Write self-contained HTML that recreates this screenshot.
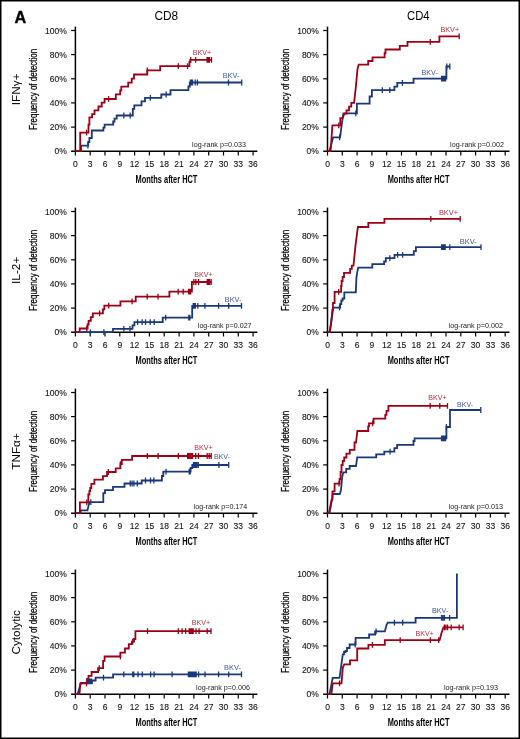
<!DOCTYPE html>
<html><head><meta charset="utf-8"><title>Figure</title>
<style>
html,body{margin:0;padding:0;background:#fff;}
svg{display:block;will-change:transform;}
text{font-family:"Liberation Sans", sans-serif;}
.yt{font-size:11.8px;fill:#000;stroke:#000;stroke-width:0.25px;}
.ax{stroke:#000;stroke-width:1.5;fill:none;}
.tk{stroke:#000;stroke-width:1.2;fill:none;}
.tl{font-size:8.5px;fill:#111;stroke:#111;stroke-width:0.1px;}
.at{font-size:10.9px;fill:#000;font-weight:bold;}
.cv{fill:none;stroke-width:1.8;stroke-linejoin:miter;stroke-linecap:butt;}
.ct{fill:none;stroke-width:1.3;}
.bk{font-size:8px;opacity:0.85;}
.lr{font-size:7.9px;fill:#1a1a1a;}
.rl{font-size:11.8px;fill:#000;}
.ch{font-size:12.2px;fill:#000;}
.pa{font-size:15.5px;font-weight:bold;fill:#000;stroke:#000;stroke-width:0.35px;}
</style></head>
<body>
<svg width="520" height="739" viewBox="0 0 520 739">
<rect x="0" y="0" width="520" height="739" fill="#fff"/>
<line x1="75.4" y1="26.6" x2="75.4" y2="151.9" class="ax"/>
<line x1="71.1" y1="151.2" x2="257.4" y2="151.2" class="ax"/>
<text x="66.8" y="154.2" class="tl" text-anchor="end">0%</text>
<line x1="71.1" y1="127.1" x2="75.4" y2="127.1" class="tk"/>
<text x="66.8" y="130.1" class="tl" text-anchor="end">20%</text>
<line x1="71.1" y1="102.9" x2="75.4" y2="102.9" class="tk"/>
<text x="66.8" y="105.9" class="tl" text-anchor="end">40%</text>
<line x1="71.1" y1="78.8" x2="75.4" y2="78.8" class="tk"/>
<text x="66.8" y="81.8" class="tl" text-anchor="end">60%</text>
<line x1="71.1" y1="54.6" x2="75.4" y2="54.6" class="tk"/>
<text x="66.8" y="57.6" class="tl" text-anchor="end">80%</text>
<line x1="71.1" y1="30.5" x2="75.4" y2="30.5" class="tk"/>
<text x="66.8" y="33.5" class="tl" text-anchor="end">100%</text>
<line x1="75.4" y1="151.2" x2="75.4" y2="155.5" class="tk"/>
<text x="75.4" y="167.0" class="tl" text-anchor="middle">0</text>
<line x1="90.2" y1="151.2" x2="90.2" y2="155.5" class="tk"/>
<text x="90.2" y="167.0" class="tl" text-anchor="middle">3</text>
<line x1="105.0" y1="151.2" x2="105.0" y2="155.5" class="tk"/>
<text x="105.0" y="167.0" class="tl" text-anchor="middle">6</text>
<line x1="119.8" y1="151.2" x2="119.8" y2="155.5" class="tk"/>
<text x="119.8" y="167.0" class="tl" text-anchor="middle">9</text>
<line x1="134.6" y1="151.2" x2="134.6" y2="155.5" class="tk"/>
<text x="134.6" y="167.0" class="tl" text-anchor="middle">12</text>
<line x1="149.4" y1="151.2" x2="149.4" y2="155.5" class="tk"/>
<text x="149.4" y="167.0" class="tl" text-anchor="middle">15</text>
<line x1="164.2" y1="151.2" x2="164.2" y2="155.5" class="tk"/>
<text x="164.2" y="167.0" class="tl" text-anchor="middle">18</text>
<line x1="179.1" y1="151.2" x2="179.1" y2="155.5" class="tk"/>
<text x="179.1" y="167.0" class="tl" text-anchor="middle">21</text>
<line x1="193.9" y1="151.2" x2="193.9" y2="155.5" class="tk"/>
<text x="193.9" y="167.0" class="tl" text-anchor="middle">24</text>
<line x1="208.7" y1="151.2" x2="208.7" y2="155.5" class="tk"/>
<text x="208.7" y="167.0" class="tl" text-anchor="middle">27</text>
<line x1="223.5" y1="151.2" x2="223.5" y2="155.5" class="tk"/>
<text x="223.5" y="167.0" class="tl" text-anchor="middle">30</text>
<line x1="238.3" y1="151.2" x2="238.3" y2="155.5" class="tk"/>
<text x="238.3" y="167.0" class="tl" text-anchor="middle">33</text>
<line x1="253.1" y1="151.2" x2="253.1" y2="155.5" class="tk"/>
<text x="253.1" y="167.0" class="tl" text-anchor="middle">36</text>
<text x="135.6" y="183.0" class="at" textLength="61.8" lengthAdjust="spacingAndGlyphs">Months after HCT</text>
<text transform="translate(37.0,89.4) rotate(-90)" x="0" y="0" class="yt" text-anchor="middle" textLength="81.2" lengthAdjust="spacingAndGlyphs">Frequency of detection</text>
<line x1="327.5" y1="26.6" x2="327.5" y2="151.9" class="ax"/>
<line x1="323.2" y1="151.2" x2="509.5" y2="151.2" class="ax"/>
<text x="318.9" y="154.2" class="tl" text-anchor="end">0%</text>
<line x1="323.2" y1="127.1" x2="327.5" y2="127.1" class="tk"/>
<text x="318.9" y="130.1" class="tl" text-anchor="end">20%</text>
<line x1="323.2" y1="102.9" x2="327.5" y2="102.9" class="tk"/>
<text x="318.9" y="105.9" class="tl" text-anchor="end">40%</text>
<line x1="323.2" y1="78.8" x2="327.5" y2="78.8" class="tk"/>
<text x="318.9" y="81.8" class="tl" text-anchor="end">60%</text>
<line x1="323.2" y1="54.6" x2="327.5" y2="54.6" class="tk"/>
<text x="318.9" y="57.6" class="tl" text-anchor="end">80%</text>
<line x1="323.2" y1="30.5" x2="327.5" y2="30.5" class="tk"/>
<text x="318.9" y="33.5" class="tl" text-anchor="end">100%</text>
<line x1="327.5" y1="151.2" x2="327.5" y2="155.5" class="tk"/>
<text x="327.5" y="167.0" class="tl" text-anchor="middle">0</text>
<line x1="342.3" y1="151.2" x2="342.3" y2="155.5" class="tk"/>
<text x="342.3" y="167.0" class="tl" text-anchor="middle">3</text>
<line x1="357.1" y1="151.2" x2="357.1" y2="155.5" class="tk"/>
<text x="357.1" y="167.0" class="tl" text-anchor="middle">6</text>
<line x1="371.9" y1="151.2" x2="371.9" y2="155.5" class="tk"/>
<text x="371.9" y="167.0" class="tl" text-anchor="middle">9</text>
<line x1="386.7" y1="151.2" x2="386.7" y2="155.5" class="tk"/>
<text x="386.7" y="167.0" class="tl" text-anchor="middle">12</text>
<line x1="401.5" y1="151.2" x2="401.5" y2="155.5" class="tk"/>
<text x="401.5" y="167.0" class="tl" text-anchor="middle">15</text>
<line x1="416.3" y1="151.2" x2="416.3" y2="155.5" class="tk"/>
<text x="416.3" y="167.0" class="tl" text-anchor="middle">18</text>
<line x1="431.2" y1="151.2" x2="431.2" y2="155.5" class="tk"/>
<text x="431.2" y="167.0" class="tl" text-anchor="middle">21</text>
<line x1="446.0" y1="151.2" x2="446.0" y2="155.5" class="tk"/>
<text x="446.0" y="167.0" class="tl" text-anchor="middle">24</text>
<line x1="460.8" y1="151.2" x2="460.8" y2="155.5" class="tk"/>
<text x="460.8" y="167.0" class="tl" text-anchor="middle">27</text>
<line x1="475.6" y1="151.2" x2="475.6" y2="155.5" class="tk"/>
<text x="475.6" y="167.0" class="tl" text-anchor="middle">30</text>
<line x1="490.4" y1="151.2" x2="490.4" y2="155.5" class="tk"/>
<text x="490.4" y="167.0" class="tl" text-anchor="middle">33</text>
<line x1="505.2" y1="151.2" x2="505.2" y2="155.5" class="tk"/>
<text x="505.2" y="167.0" class="tl" text-anchor="middle">36</text>
<text x="387.7" y="183.0" class="at" textLength="61.8" lengthAdjust="spacingAndGlyphs">Months after HCT</text>
<text transform="translate(289.1,89.4) rotate(-90)" x="0" y="0" class="yt" text-anchor="middle" textLength="81.2" lengthAdjust="spacingAndGlyphs">Frequency of detection</text>
<line x1="75.4" y1="207.6" x2="75.4" y2="332.9" class="ax"/>
<line x1="71.1" y1="332.2" x2="257.4" y2="332.2" class="ax"/>
<text x="66.8" y="335.2" class="tl" text-anchor="end">0%</text>
<line x1="71.1" y1="308.1" x2="75.4" y2="308.1" class="tk"/>
<text x="66.8" y="311.1" class="tl" text-anchor="end">20%</text>
<line x1="71.1" y1="283.9" x2="75.4" y2="283.9" class="tk"/>
<text x="66.8" y="286.9" class="tl" text-anchor="end">40%</text>
<line x1="71.1" y1="259.8" x2="75.4" y2="259.8" class="tk"/>
<text x="66.8" y="262.8" class="tl" text-anchor="end">60%</text>
<line x1="71.1" y1="235.6" x2="75.4" y2="235.6" class="tk"/>
<text x="66.8" y="238.6" class="tl" text-anchor="end">80%</text>
<line x1="71.1" y1="211.5" x2="75.4" y2="211.5" class="tk"/>
<text x="66.8" y="214.5" class="tl" text-anchor="end">100%</text>
<line x1="75.4" y1="332.2" x2="75.4" y2="336.5" class="tk"/>
<text x="75.4" y="348.0" class="tl" text-anchor="middle">0</text>
<line x1="90.2" y1="332.2" x2="90.2" y2="336.5" class="tk"/>
<text x="90.2" y="348.0" class="tl" text-anchor="middle">3</text>
<line x1="105.0" y1="332.2" x2="105.0" y2="336.5" class="tk"/>
<text x="105.0" y="348.0" class="tl" text-anchor="middle">6</text>
<line x1="119.8" y1="332.2" x2="119.8" y2="336.5" class="tk"/>
<text x="119.8" y="348.0" class="tl" text-anchor="middle">9</text>
<line x1="134.6" y1="332.2" x2="134.6" y2="336.5" class="tk"/>
<text x="134.6" y="348.0" class="tl" text-anchor="middle">12</text>
<line x1="149.4" y1="332.2" x2="149.4" y2="336.5" class="tk"/>
<text x="149.4" y="348.0" class="tl" text-anchor="middle">15</text>
<line x1="164.2" y1="332.2" x2="164.2" y2="336.5" class="tk"/>
<text x="164.2" y="348.0" class="tl" text-anchor="middle">18</text>
<line x1="179.1" y1="332.2" x2="179.1" y2="336.5" class="tk"/>
<text x="179.1" y="348.0" class="tl" text-anchor="middle">21</text>
<line x1="193.9" y1="332.2" x2="193.9" y2="336.5" class="tk"/>
<text x="193.9" y="348.0" class="tl" text-anchor="middle">24</text>
<line x1="208.7" y1="332.2" x2="208.7" y2="336.5" class="tk"/>
<text x="208.7" y="348.0" class="tl" text-anchor="middle">27</text>
<line x1="223.5" y1="332.2" x2="223.5" y2="336.5" class="tk"/>
<text x="223.5" y="348.0" class="tl" text-anchor="middle">30</text>
<line x1="238.3" y1="332.2" x2="238.3" y2="336.5" class="tk"/>
<text x="238.3" y="348.0" class="tl" text-anchor="middle">33</text>
<line x1="253.1" y1="332.2" x2="253.1" y2="336.5" class="tk"/>
<text x="253.1" y="348.0" class="tl" text-anchor="middle">36</text>
<text x="135.6" y="364.0" class="at" textLength="61.8" lengthAdjust="spacingAndGlyphs">Months after HCT</text>
<text transform="translate(37.0,270.4) rotate(-90)" x="0" y="0" class="yt" text-anchor="middle" textLength="81.2" lengthAdjust="spacingAndGlyphs">Frequency of detection</text>
<line x1="327.5" y1="207.6" x2="327.5" y2="332.9" class="ax"/>
<line x1="323.2" y1="332.2" x2="509.5" y2="332.2" class="ax"/>
<text x="318.9" y="335.2" class="tl" text-anchor="end">0%</text>
<line x1="323.2" y1="308.1" x2="327.5" y2="308.1" class="tk"/>
<text x="318.9" y="311.1" class="tl" text-anchor="end">20%</text>
<line x1="323.2" y1="283.9" x2="327.5" y2="283.9" class="tk"/>
<text x="318.9" y="286.9" class="tl" text-anchor="end">40%</text>
<line x1="323.2" y1="259.8" x2="327.5" y2="259.8" class="tk"/>
<text x="318.9" y="262.8" class="tl" text-anchor="end">60%</text>
<line x1="323.2" y1="235.6" x2="327.5" y2="235.6" class="tk"/>
<text x="318.9" y="238.6" class="tl" text-anchor="end">80%</text>
<line x1="323.2" y1="211.5" x2="327.5" y2="211.5" class="tk"/>
<text x="318.9" y="214.5" class="tl" text-anchor="end">100%</text>
<line x1="327.5" y1="332.2" x2="327.5" y2="336.5" class="tk"/>
<text x="327.5" y="348.0" class="tl" text-anchor="middle">0</text>
<line x1="342.3" y1="332.2" x2="342.3" y2="336.5" class="tk"/>
<text x="342.3" y="348.0" class="tl" text-anchor="middle">3</text>
<line x1="357.1" y1="332.2" x2="357.1" y2="336.5" class="tk"/>
<text x="357.1" y="348.0" class="tl" text-anchor="middle">6</text>
<line x1="371.9" y1="332.2" x2="371.9" y2="336.5" class="tk"/>
<text x="371.9" y="348.0" class="tl" text-anchor="middle">9</text>
<line x1="386.7" y1="332.2" x2="386.7" y2="336.5" class="tk"/>
<text x="386.7" y="348.0" class="tl" text-anchor="middle">12</text>
<line x1="401.5" y1="332.2" x2="401.5" y2="336.5" class="tk"/>
<text x="401.5" y="348.0" class="tl" text-anchor="middle">15</text>
<line x1="416.3" y1="332.2" x2="416.3" y2="336.5" class="tk"/>
<text x="416.3" y="348.0" class="tl" text-anchor="middle">18</text>
<line x1="431.2" y1="332.2" x2="431.2" y2="336.5" class="tk"/>
<text x="431.2" y="348.0" class="tl" text-anchor="middle">21</text>
<line x1="446.0" y1="332.2" x2="446.0" y2="336.5" class="tk"/>
<text x="446.0" y="348.0" class="tl" text-anchor="middle">24</text>
<line x1="460.8" y1="332.2" x2="460.8" y2="336.5" class="tk"/>
<text x="460.8" y="348.0" class="tl" text-anchor="middle">27</text>
<line x1="475.6" y1="332.2" x2="475.6" y2="336.5" class="tk"/>
<text x="475.6" y="348.0" class="tl" text-anchor="middle">30</text>
<line x1="490.4" y1="332.2" x2="490.4" y2="336.5" class="tk"/>
<text x="490.4" y="348.0" class="tl" text-anchor="middle">33</text>
<line x1="505.2" y1="332.2" x2="505.2" y2="336.5" class="tk"/>
<text x="505.2" y="348.0" class="tl" text-anchor="middle">36</text>
<text x="387.7" y="364.0" class="at" textLength="61.8" lengthAdjust="spacingAndGlyphs">Months after HCT</text>
<text transform="translate(289.1,270.4) rotate(-90)" x="0" y="0" class="yt" text-anchor="middle" textLength="81.2" lengthAdjust="spacingAndGlyphs">Frequency of detection</text>
<line x1="75.4" y1="388.6" x2="75.4" y2="513.9" class="ax"/>
<line x1="71.1" y1="513.2" x2="257.4" y2="513.2" class="ax"/>
<text x="66.8" y="516.2" class="tl" text-anchor="end">0%</text>
<line x1="71.1" y1="489.1" x2="75.4" y2="489.1" class="tk"/>
<text x="66.8" y="492.1" class="tl" text-anchor="end">20%</text>
<line x1="71.1" y1="464.9" x2="75.4" y2="464.9" class="tk"/>
<text x="66.8" y="467.9" class="tl" text-anchor="end">40%</text>
<line x1="71.1" y1="440.8" x2="75.4" y2="440.8" class="tk"/>
<text x="66.8" y="443.8" class="tl" text-anchor="end">60%</text>
<line x1="71.1" y1="416.6" x2="75.4" y2="416.6" class="tk"/>
<text x="66.8" y="419.6" class="tl" text-anchor="end">80%</text>
<line x1="71.1" y1="392.5" x2="75.4" y2="392.5" class="tk"/>
<text x="66.8" y="395.5" class="tl" text-anchor="end">100%</text>
<line x1="75.4" y1="513.2" x2="75.4" y2="517.5" class="tk"/>
<text x="75.4" y="529.0" class="tl" text-anchor="middle">0</text>
<line x1="90.2" y1="513.2" x2="90.2" y2="517.5" class="tk"/>
<text x="90.2" y="529.0" class="tl" text-anchor="middle">3</text>
<line x1="105.0" y1="513.2" x2="105.0" y2="517.5" class="tk"/>
<text x="105.0" y="529.0" class="tl" text-anchor="middle">6</text>
<line x1="119.8" y1="513.2" x2="119.8" y2="517.5" class="tk"/>
<text x="119.8" y="529.0" class="tl" text-anchor="middle">9</text>
<line x1="134.6" y1="513.2" x2="134.6" y2="517.5" class="tk"/>
<text x="134.6" y="529.0" class="tl" text-anchor="middle">12</text>
<line x1="149.4" y1="513.2" x2="149.4" y2="517.5" class="tk"/>
<text x="149.4" y="529.0" class="tl" text-anchor="middle">15</text>
<line x1="164.2" y1="513.2" x2="164.2" y2="517.5" class="tk"/>
<text x="164.2" y="529.0" class="tl" text-anchor="middle">18</text>
<line x1="179.1" y1="513.2" x2="179.1" y2="517.5" class="tk"/>
<text x="179.1" y="529.0" class="tl" text-anchor="middle">21</text>
<line x1="193.9" y1="513.2" x2="193.9" y2="517.5" class="tk"/>
<text x="193.9" y="529.0" class="tl" text-anchor="middle">24</text>
<line x1="208.7" y1="513.2" x2="208.7" y2="517.5" class="tk"/>
<text x="208.7" y="529.0" class="tl" text-anchor="middle">27</text>
<line x1="223.5" y1="513.2" x2="223.5" y2="517.5" class="tk"/>
<text x="223.5" y="529.0" class="tl" text-anchor="middle">30</text>
<line x1="238.3" y1="513.2" x2="238.3" y2="517.5" class="tk"/>
<text x="238.3" y="529.0" class="tl" text-anchor="middle">33</text>
<line x1="253.1" y1="513.2" x2="253.1" y2="517.5" class="tk"/>
<text x="253.1" y="529.0" class="tl" text-anchor="middle">36</text>
<text x="135.6" y="545.0" class="at" textLength="61.8" lengthAdjust="spacingAndGlyphs">Months after HCT</text>
<text transform="translate(37.0,451.4) rotate(-90)" x="0" y="0" class="yt" text-anchor="middle" textLength="81.2" lengthAdjust="spacingAndGlyphs">Frequency of detection</text>
<line x1="327.5" y1="388.6" x2="327.5" y2="513.9" class="ax"/>
<line x1="323.2" y1="513.2" x2="509.5" y2="513.2" class="ax"/>
<text x="318.9" y="516.2" class="tl" text-anchor="end">0%</text>
<line x1="323.2" y1="489.1" x2="327.5" y2="489.1" class="tk"/>
<text x="318.9" y="492.1" class="tl" text-anchor="end">20%</text>
<line x1="323.2" y1="464.9" x2="327.5" y2="464.9" class="tk"/>
<text x="318.9" y="467.9" class="tl" text-anchor="end">40%</text>
<line x1="323.2" y1="440.8" x2="327.5" y2="440.8" class="tk"/>
<text x="318.9" y="443.8" class="tl" text-anchor="end">60%</text>
<line x1="323.2" y1="416.6" x2="327.5" y2="416.6" class="tk"/>
<text x="318.9" y="419.6" class="tl" text-anchor="end">80%</text>
<line x1="323.2" y1="392.5" x2="327.5" y2="392.5" class="tk"/>
<text x="318.9" y="395.5" class="tl" text-anchor="end">100%</text>
<line x1="327.5" y1="513.2" x2="327.5" y2="517.5" class="tk"/>
<text x="327.5" y="529.0" class="tl" text-anchor="middle">0</text>
<line x1="342.3" y1="513.2" x2="342.3" y2="517.5" class="tk"/>
<text x="342.3" y="529.0" class="tl" text-anchor="middle">3</text>
<line x1="357.1" y1="513.2" x2="357.1" y2="517.5" class="tk"/>
<text x="357.1" y="529.0" class="tl" text-anchor="middle">6</text>
<line x1="371.9" y1="513.2" x2="371.9" y2="517.5" class="tk"/>
<text x="371.9" y="529.0" class="tl" text-anchor="middle">9</text>
<line x1="386.7" y1="513.2" x2="386.7" y2="517.5" class="tk"/>
<text x="386.7" y="529.0" class="tl" text-anchor="middle">12</text>
<line x1="401.5" y1="513.2" x2="401.5" y2="517.5" class="tk"/>
<text x="401.5" y="529.0" class="tl" text-anchor="middle">15</text>
<line x1="416.3" y1="513.2" x2="416.3" y2="517.5" class="tk"/>
<text x="416.3" y="529.0" class="tl" text-anchor="middle">18</text>
<line x1="431.2" y1="513.2" x2="431.2" y2="517.5" class="tk"/>
<text x="431.2" y="529.0" class="tl" text-anchor="middle">21</text>
<line x1="446.0" y1="513.2" x2="446.0" y2="517.5" class="tk"/>
<text x="446.0" y="529.0" class="tl" text-anchor="middle">24</text>
<line x1="460.8" y1="513.2" x2="460.8" y2="517.5" class="tk"/>
<text x="460.8" y="529.0" class="tl" text-anchor="middle">27</text>
<line x1="475.6" y1="513.2" x2="475.6" y2="517.5" class="tk"/>
<text x="475.6" y="529.0" class="tl" text-anchor="middle">30</text>
<line x1="490.4" y1="513.2" x2="490.4" y2="517.5" class="tk"/>
<text x="490.4" y="529.0" class="tl" text-anchor="middle">33</text>
<line x1="505.2" y1="513.2" x2="505.2" y2="517.5" class="tk"/>
<text x="505.2" y="529.0" class="tl" text-anchor="middle">36</text>
<text x="387.7" y="545.0" class="at" textLength="61.8" lengthAdjust="spacingAndGlyphs">Months after HCT</text>
<text transform="translate(289.1,451.4) rotate(-90)" x="0" y="0" class="yt" text-anchor="middle" textLength="81.2" lengthAdjust="spacingAndGlyphs">Frequency of detection</text>
<line x1="75.4" y1="569.6" x2="75.4" y2="694.9" class="ax"/>
<line x1="71.1" y1="694.2" x2="257.4" y2="694.2" class="ax"/>
<text x="66.8" y="697.2" class="tl" text-anchor="end">0%</text>
<line x1="71.1" y1="670.1" x2="75.4" y2="670.1" class="tk"/>
<text x="66.8" y="673.1" class="tl" text-anchor="end">20%</text>
<line x1="71.1" y1="645.9" x2="75.4" y2="645.9" class="tk"/>
<text x="66.8" y="648.9" class="tl" text-anchor="end">40%</text>
<line x1="71.1" y1="621.8" x2="75.4" y2="621.8" class="tk"/>
<text x="66.8" y="624.8" class="tl" text-anchor="end">60%</text>
<line x1="71.1" y1="597.6" x2="75.4" y2="597.6" class="tk"/>
<text x="66.8" y="600.6" class="tl" text-anchor="end">80%</text>
<line x1="71.1" y1="573.5" x2="75.4" y2="573.5" class="tk"/>
<text x="66.8" y="576.5" class="tl" text-anchor="end">100%</text>
<line x1="75.4" y1="694.2" x2="75.4" y2="698.5" class="tk"/>
<text x="75.4" y="710.0" class="tl" text-anchor="middle">0</text>
<line x1="90.2" y1="694.2" x2="90.2" y2="698.5" class="tk"/>
<text x="90.2" y="710.0" class="tl" text-anchor="middle">3</text>
<line x1="105.0" y1="694.2" x2="105.0" y2="698.5" class="tk"/>
<text x="105.0" y="710.0" class="tl" text-anchor="middle">6</text>
<line x1="119.8" y1="694.2" x2="119.8" y2="698.5" class="tk"/>
<text x="119.8" y="710.0" class="tl" text-anchor="middle">9</text>
<line x1="134.6" y1="694.2" x2="134.6" y2="698.5" class="tk"/>
<text x="134.6" y="710.0" class="tl" text-anchor="middle">12</text>
<line x1="149.4" y1="694.2" x2="149.4" y2="698.5" class="tk"/>
<text x="149.4" y="710.0" class="tl" text-anchor="middle">15</text>
<line x1="164.2" y1="694.2" x2="164.2" y2="698.5" class="tk"/>
<text x="164.2" y="710.0" class="tl" text-anchor="middle">18</text>
<line x1="179.1" y1="694.2" x2="179.1" y2="698.5" class="tk"/>
<text x="179.1" y="710.0" class="tl" text-anchor="middle">21</text>
<line x1="193.9" y1="694.2" x2="193.9" y2="698.5" class="tk"/>
<text x="193.9" y="710.0" class="tl" text-anchor="middle">24</text>
<line x1="208.7" y1="694.2" x2="208.7" y2="698.5" class="tk"/>
<text x="208.7" y="710.0" class="tl" text-anchor="middle">27</text>
<line x1="223.5" y1="694.2" x2="223.5" y2="698.5" class="tk"/>
<text x="223.5" y="710.0" class="tl" text-anchor="middle">30</text>
<line x1="238.3" y1="694.2" x2="238.3" y2="698.5" class="tk"/>
<text x="238.3" y="710.0" class="tl" text-anchor="middle">33</text>
<line x1="253.1" y1="694.2" x2="253.1" y2="698.5" class="tk"/>
<text x="253.1" y="710.0" class="tl" text-anchor="middle">36</text>
<text x="135.6" y="726.0" class="at" textLength="61.8" lengthAdjust="spacingAndGlyphs">Months after HCT</text>
<text transform="translate(37.0,632.4) rotate(-90)" x="0" y="0" class="yt" text-anchor="middle" textLength="81.2" lengthAdjust="spacingAndGlyphs">Frequency of detection</text>
<line x1="327.5" y1="569.6" x2="327.5" y2="694.9" class="ax"/>
<line x1="323.2" y1="694.2" x2="509.5" y2="694.2" class="ax"/>
<text x="318.9" y="697.2" class="tl" text-anchor="end">0%</text>
<line x1="323.2" y1="670.1" x2="327.5" y2="670.1" class="tk"/>
<text x="318.9" y="673.1" class="tl" text-anchor="end">20%</text>
<line x1="323.2" y1="645.9" x2="327.5" y2="645.9" class="tk"/>
<text x="318.9" y="648.9" class="tl" text-anchor="end">40%</text>
<line x1="323.2" y1="621.8" x2="327.5" y2="621.8" class="tk"/>
<text x="318.9" y="624.8" class="tl" text-anchor="end">60%</text>
<line x1="323.2" y1="597.6" x2="327.5" y2="597.6" class="tk"/>
<text x="318.9" y="600.6" class="tl" text-anchor="end">80%</text>
<line x1="323.2" y1="573.5" x2="327.5" y2="573.5" class="tk"/>
<text x="318.9" y="576.5" class="tl" text-anchor="end">100%</text>
<line x1="327.5" y1="694.2" x2="327.5" y2="698.5" class="tk"/>
<text x="327.5" y="710.0" class="tl" text-anchor="middle">0</text>
<line x1="342.3" y1="694.2" x2="342.3" y2="698.5" class="tk"/>
<text x="342.3" y="710.0" class="tl" text-anchor="middle">3</text>
<line x1="357.1" y1="694.2" x2="357.1" y2="698.5" class="tk"/>
<text x="357.1" y="710.0" class="tl" text-anchor="middle">6</text>
<line x1="371.9" y1="694.2" x2="371.9" y2="698.5" class="tk"/>
<text x="371.9" y="710.0" class="tl" text-anchor="middle">9</text>
<line x1="386.7" y1="694.2" x2="386.7" y2="698.5" class="tk"/>
<text x="386.7" y="710.0" class="tl" text-anchor="middle">12</text>
<line x1="401.5" y1="694.2" x2="401.5" y2="698.5" class="tk"/>
<text x="401.5" y="710.0" class="tl" text-anchor="middle">15</text>
<line x1="416.3" y1="694.2" x2="416.3" y2="698.5" class="tk"/>
<text x="416.3" y="710.0" class="tl" text-anchor="middle">18</text>
<line x1="431.2" y1="694.2" x2="431.2" y2="698.5" class="tk"/>
<text x="431.2" y="710.0" class="tl" text-anchor="middle">21</text>
<line x1="446.0" y1="694.2" x2="446.0" y2="698.5" class="tk"/>
<text x="446.0" y="710.0" class="tl" text-anchor="middle">24</text>
<line x1="460.8" y1="694.2" x2="460.8" y2="698.5" class="tk"/>
<text x="460.8" y="710.0" class="tl" text-anchor="middle">27</text>
<line x1="475.6" y1="694.2" x2="475.6" y2="698.5" class="tk"/>
<text x="475.6" y="710.0" class="tl" text-anchor="middle">30</text>
<line x1="490.4" y1="694.2" x2="490.4" y2="698.5" class="tk"/>
<text x="490.4" y="710.0" class="tl" text-anchor="middle">33</text>
<line x1="505.2" y1="694.2" x2="505.2" y2="698.5" class="tk"/>
<text x="505.2" y="710.0" class="tl" text-anchor="middle">36</text>
<text x="387.7" y="726.0" class="at" textLength="61.8" lengthAdjust="spacingAndGlyphs">Months after HCT</text>
<text transform="translate(289.1,632.4) rotate(-90)" x="0" y="0" class="yt" text-anchor="middle" textLength="81.2" lengthAdjust="spacingAndGlyphs">Frequency of detection</text>
<path d="M75.4 151.2 H81.1 V145.7 H88.2 V142 H89.4 V138 H91.8 V130.5 H103.4 V127.6 H104.6 V124.7 H113.2 V121.5 H114.5 V118.7 H116.7 V115.5 H132.8 V108.8 H134.3 V105.4 H141.5 V101.3 H145 V97.9 H161.3 V94.5 H170.5 V90.2 H188.4 V86.5 H189.8 V82.5 H241.7" class="cv" stroke="#1a3878"/>
<path d="M87.9 142.8V148.6" class="ct" stroke="#1a3878"/>
<path d="M123.8 112.6V118.4 M130.2 112.6V118.4" class="ct" stroke="#1a3878"/>
<path d="M150.4 95.0V100.8" class="ct" stroke="#1a3878"/>
<path d="M166.2 91.6V97.4" class="ct" stroke="#1a3878"/>
<path d="M190.4 79.6V85.4 M191.5 79.6V85.4 M192.5 79.6V85.4 M195.2 79.6V85.4 M197.4 79.6V85.4 M228.5 79.6V85.4 M241.7 79.6V85.4" class="ct" stroke="#1a3878"/>
<path d="M75.4 151.2 L77 151.2 H80.2 V132.6 H88.5 V124.6 H89.4 V117.4 H92.1 V114.2 H94.5 V110.4 H98.4 V106.5 H101.7 V102.6 H104.6 V99 H115.8 V94.4 H120.2 V90.4 H121.3 V86.7 H128.2 V82.7 H131.7 V78.6 H134 V74.5 H147.3 V70.3 H160.2 V66.1 H189.4 V62 H190.2 V59.8 H211.5" class="cv" stroke="#9c0016"/>
<path d="M86.6 129.7V135.5" class="ct" stroke="#9c0016"/>
<path d="M108.6 96.1V101.9" class="ct" stroke="#9c0016"/>
<path d="M147.3 67.4V73.2" class="ct" stroke="#9c0016"/>
<path d="M178.3 63.2V69.0 M187.5 63.2V69.0" class="ct" stroke="#9c0016"/>
<path d="M190.7 56.9V62.7 M195.6 56.9V62.7 M207.1 56.9V62.7 M208.3 56.9V62.7 M209.4 56.9V62.7 M211.5 56.9V62.7" class="ct" stroke="#9c0016"/>
<path d="M327.5 151.2 H329.4 L333.2 137.3 H340.1 L341.8 124.1 L343.4 113.4 H356.9 V103.6 H369.6 V96.5 H371.9 V90.2 H394.4 V86.7 H397.3 V82.9 H413.5 V78.7 H446.4 V66.5 H450" class="cv" stroke="#1a3878"/>
<path d="M339.6 134.4V140.2" class="ct" stroke="#1a3878"/>
<path d="M355.8 110.5V116.3" class="ct" stroke="#1a3878"/>
<path d="M382.3 87.3V93.1 M389.8 87.3V93.1" class="ct" stroke="#1a3878"/>
<path d="M402.4 80.0V85.8" class="ct" stroke="#1a3878"/>
<path d="M441.6 75.8V81.6 M442.6 75.8V81.6 M443.6 75.8V81.6 M444.6 75.8V81.6 M445.6 75.8V81.6" class="ct" stroke="#1a3878"/>
<path d="M446.8 63.6V69.4 M449.8 63.6V69.4" class="ct" stroke="#1a3878"/>
<path d="M327.5 151.2 H330.6 L332.4 125.3 H340.3 V118.1 H342.5 L344.5 113.7 H346.5 V110.4 H349 V106.6 H351.3 V102.8 H354.1 L355.8 87.3 L357.5 68.8 L358.7 64.6 H368.2 V61 H372.5 V57.3 H384.6 V53.2 H385.5 V49.5 H399.8 V45.8 H407.5 V41.8 H439.4 V36.4 H459.2" class="cv" stroke="#9c0016"/>
<path d="M338.8 122.4V128.2" class="ct" stroke="#9c0016"/>
<path d="M430.3 38.9V44.7" class="ct" stroke="#9c0016"/>
<path d="M459.2 33.5V39.3" class="ct" stroke="#9c0016"/>
<path d="M75.4 332.2 H113 V328.8 H132.5 V325.4 H134.4 V322.2 H162.7 V317.6 H192.2 V305.8 H241.5" class="cv" stroke="#1a3878"/>
<path d="M90.4 329.3V335.1 M103.9 329.3V335.1" class="ct" stroke="#1a3878"/>
<path d="M123.8 325.9V331.7 M129.9 325.9V331.7" class="ct" stroke="#1a3878"/>
<path d="M137.6 319.3V325.1 M142.1 319.3V325.1 M145.5 319.3V325.1 M150.2 319.3V325.1 M154.2 319.3V325.1" class="ct" stroke="#1a3878"/>
<path d="M165.7 314.7V320.5 M188.8 314.7V320.5 M189.8 314.7V320.5" class="ct" stroke="#1a3878"/>
<path d="M193.3 302.9V308.7 M194.3 302.9V308.7 M195.3 302.9V308.7 M197.8 302.9V308.7 M204.9 302.9V308.7 M218.6 302.9V308.7 M228.7 302.9V308.7 M241.5 302.9V308.7" class="ct" stroke="#1a3878"/>
<path d="M75.4 332.2 H79.7 V328.5 H87.6 V324.5 H88.6 V320.9 H90.8 V317.1 H92.8 V313.3 H102.9 V309.3 H104.3 V305.7 H120.4 V301.4 H135.7 V296.6 H169.4 V291.6 H191.9 V282 H211.2" class="cv" stroke="#9c0016"/>
<path d="M86.8 325.6V331.4" class="ct" stroke="#9c0016"/>
<path d="M99.6 310.4V316.2" class="ct" stroke="#9c0016"/>
<path d="M108.7 302.8V308.6" class="ct" stroke="#9c0016"/>
<path d="M132.1 298.5V304.3" class="ct" stroke="#9c0016"/>
<path d="M147.2 293.7V299.5 M158 293.7V299.5" class="ct" stroke="#9c0016"/>
<path d="M178.2 288.7V294.5 M183.2 288.7V294.5 M188.6 288.7V294.5 M189.6 288.7V294.5 M190.6 288.7V294.5" class="ct" stroke="#9c0016"/>
<path d="M193.8 279.1V284.9 M195.8 279.1V284.9 M198.5 279.1V284.9 M207.2 279.1V284.9 M208.3 279.1V284.9 M209.5 279.1V284.9 M211.2 279.1V284.9" class="ct" stroke="#9c0016"/>
<path d="M327.5 332.2 H329.6 L333.3 307.7 H340.2 V304 H341.3 V300.5 H342.6 V298.5 H344.3 V292.4 H355.8 L356.4 278 L357.2 272.3 L358.2 267.6 H372.3 V264.2 H384.1 V261.5 H385.8 V258.2 H394.5 V254.8 H413.8 V251.2 H415.9 V247.1 H481" class="cv" stroke="#1a3878"/>
<path d="M339.5 304.6V310.4" class="ct" stroke="#1a3878"/>
<path d="M389.8 255.3V261.1" class="ct" stroke="#1a3878"/>
<path d="M397.6 251.9V257.7 M402.6 251.9V257.7" class="ct" stroke="#1a3878"/>
<path d="M441.6 244.2V250.0 M442.8 244.2V250.0 M444.0 244.2V250.0 M445.2 244.2V250.0 M449.8 244.2V250.0 M481 244.2V250.0" class="ct" stroke="#1a3878"/>
<path d="M327.5 332.2 H329.9 L331.3 322 L332.4 310 H333 V303 H334.6 V291.8 H341.1 V286 H341.6 V281 H342.6 V277 H344 V272.9 H350.1 V268.9 H351.8 V265.6 H353.5 L355.5 245.4 L357.9 227 H368.3 V222.9 H384.4 V218.9 H460.2" class="cv" stroke="#9c0016"/>
<path d="M338.7 288.9V294.7" class="ct" stroke="#9c0016"/>
<path d="M430.8 216.0V221.8 M460.2 216.0V221.8" class="ct" stroke="#9c0016"/>
<path d="M75.4 513.2 H80.7 V510.3 H87.5 L88.5 506 L89.5 502.2 H103.3 V493.2 H105 V490.1 H113 V486.8 H124.5 V483.5 H141.7 V480.5 H161.9 V476 H163.3 V471.7 H190.6 V468 H192.3 V465 H228.7" class="cv" stroke="#1a3878"/>
<path d="M90.8 499.3V505.1" class="ct" stroke="#1a3878"/>
<path d="M130.3 480.6V486.4 M132.1 480.6V486.4 M133.9 480.6V486.4 M137.3 480.6V486.4" class="ct" stroke="#1a3878"/>
<path d="M145.5 477.6V483.4 M150.5 477.6V483.4 M153.8 477.6V483.4" class="ct" stroke="#1a3878"/>
<path d="M166 468.8V474.6 M189.2 468.8V474.6 M190.2 468.8V474.6" class="ct" stroke="#1a3878"/>
<path d="M193.5 462.1V467.9 M194.5 462.1V467.9 M195.5 462.1V467.9 M196.8 462.1V467.9 M198.3 462.1V467.9 M218.9 462.1V467.9 M228.7 462.1V467.9" class="ct" stroke="#1a3878"/>
<path d="M75.4 513.2 H79.9 V502.3 H88.3 V494.5 H89.4 V491 H90.2 V488 H91.3 V483.8 H94.4 V479.7 H102.9 V476.1 H107 V472 H115.7 V468.3 H120.4 V464.2 H121.8 V459.9 H132.1 V456 H211.2" class="cv" stroke="#9c0016"/>
<path d="M86.8 499.4V505.2" class="ct" stroke="#9c0016"/>
<path d="M108.3 469.1V474.9" class="ct" stroke="#9c0016"/>
<path d="M120.4 461.3V467.1" class="ct" stroke="#9c0016"/>
<path d="M147.4 453.1V458.9 M158.1 453.1V458.9 M178.3 453.1V458.9 M187.6 453.1V458.9 M188.6 453.1V458.9 M189.6 453.1V458.9 M190.6 453.1V458.9 M191.6 453.1V458.9 M192.6 453.1V458.9 M195.7 453.1V458.9 M198.4 453.1V458.9 M207.2 453.1V458.9 M209.2 453.1V458.9 M211.2 453.1V458.9" class="ct" stroke="#9c0016"/>
<path d="M327.5 513.2 H329.5 L332.9 494 H339.8 L341 490 L342.2 477 L343.3 472.3 H346.2 V468.8 H349.7 V466 H356 L357.2 457.3 H376.2 V454.3 H384.3 V451.6 H394.4 V448.1 H397.1 V444.9 H413.5 V441 H414.6 V438.4 H446.4 V427 H450 V410 H480.8" class="cv" stroke="#1a3878"/>
<path d="M390.1 448.7V454.5" class="ct" stroke="#1a3878"/>
<path d="M441.6 435.5V441.3 M442.6 435.5V441.3 M443.6 435.5V441.3 M444.6 435.5V441.3 M445.6 435.5V441.3" class="ct" stroke="#1a3878"/>
<path d="M446.4 424.1V429.9" class="ct" stroke="#1a3878"/>
<path d="M480.8 407.1V412.9" class="ct" stroke="#1a3878"/>
<path d="M327.5 513.2 H328.9 L330.2 507 L331.7 499.7 H332.4 V491.4 H334.6 V483.7 H339.6 V479 H340.6 V472 H341.5 V465 H342.7 V461 H344.2 V457.5 H346.4 V453.6 H349.8 V449.8 H354.5 V442.5 H356 L357.4 431 H368.2 V426.3 H369 V423.4 H373.6 V418.7 H385.3 V414.9 H386.5 V410.9 H388.4 V405.9 H447.5" class="cv" stroke="#9c0016"/>
<path d="M339 480.7V486.5" class="ct" stroke="#9c0016"/>
<path d="M372.6 420.5V426.3" class="ct" stroke="#9c0016"/>
<path d="M430.2 403.0V408.8 M439.8 403.0V408.8 M447.5 403.0V408.8" class="ct" stroke="#9c0016"/>
<path d="M75.4 694.2 H77.5 L81 683 H91.9 V680.5 H95.6 V677.7 H113.1 V674.4 H241.5" class="cv" stroke="#1a3878"/>
<path d="M103.5 674.8V680.6" class="ct" stroke="#1a3878"/>
<path d="M123.8 671.5V677.3 M132.8 671.5V677.3 M133.8 671.5V677.3 M138 671.5V677.3 M142.3 671.5V677.3 M150.6 671.5V677.3 M154.1 671.5V677.3 M172.1 671.5V677.3 M188.4 671.5V677.3 M189.4 671.5V677.3 M190.4 671.5V677.3 M191.4 671.5V677.3 M192.4 671.5V677.3 M193.4 671.5V677.3 M194.4 671.5V677.3 M195.4 671.5V677.3 M196.2 671.5V677.3 M198.6 671.5V677.3 M205 671.5V677.3 M218.6 671.5V677.3 M228.7 671.5V677.3 M241.5 671.5V677.3" class="ct" stroke="#1a3878"/>
<path d="M75.4 694.2 H79.5 L80.3 683.4 H87 V679 H88.5 V675.9 H91.6 V672 H98.1 V668.1 H103.1 V660.8 H104.6 V656.5 H120.4 V652.7 H125 V648.5 H128.8 V644.2 H131.9 V641.6 H134 V639 H135.4 V631.2 H211.2" class="cv" stroke="#9c0016"/>
<path d="M86.5 680.5V686.3" class="ct" stroke="#9c0016"/>
<path d="M99.2 665.2V671.0" class="ct" stroke="#9c0016"/>
<path d="M120.4 653.6V659.4" class="ct" stroke="#9c0016"/>
<path d="M132.7 638.7V644.5" class="ct" stroke="#9c0016"/>
<path d="M147.5 628.3V634.1 M178.3 628.3V634.1 M182.1 628.3V634.1 M185.6 628.3V634.1 M189.2 628.3V634.1 M190.2 628.3V634.1 M191.2 628.3V634.1 M192.2 628.3V634.1 M193.2 628.3V634.1 M196 628.3V634.1 M199.1 628.3V634.1 M207.2 628.3V634.1 M211 628.3V634.1" class="ct" stroke="#9c0016"/>
<path d="M87.8 678.4V684.2 M88.8 678.4V684.2 M89.8 678.4V684.2 M90.8 678.4V684.2 M91.6 678.4V684.2" class="ct" stroke="#1a3878"/>
<path d="M327.5 694.2 H329.5 L332.7 677.9 H339.5 L340.5 671 L342 660 L342.8 654.3 H344 V652 H345.5 V651 H347 V648 H349.6 V644.5 H355.6 V637.8 H369.1 V634.5 H375.1 V631.4 H384.8 L386.5 625 L387.7 622.7 H415.6 V617.9 H456.9 V573.5" class="cv" stroke="#1a3878"/>
<path d="M376.1 628.5V634.3" class="ct" stroke="#1a3878"/>
<path d="M355.2 641.6V647.4" class="ct" stroke="#1a3878"/>
<path d="M394.4 619.8V625.6 M402.7 619.8V625.6" class="ct" stroke="#1a3878"/>
<path d="M441.6 615.0V620.8 M443.0 615.0V620.8 M444.4 615.0V620.8 M449.6 615.0V620.8" class="ct" stroke="#1a3878"/>
<path d="M327.5 694.2 H331.4 L332.7 683.3 H341.5 L342.8 667.8 L344.2 664.4 H350 V660.4 H357.2 V648.5 H368.4 V644.9 H384.8 V640.2 H439.6 L441.5 633 L443.5 627.3 H463.1" class="cv" stroke="#9c0016"/>
<path d="M339.5 680.4V686.2" class="ct" stroke="#9c0016"/>
<path d="M372.4 642.0V647.8" class="ct" stroke="#9c0016"/>
<path d="M400.2 637.3V643.1 M430.4 637.3V643.1 M438.7 637.3V643.1" class="ct" stroke="#9c0016"/>
<path d="M444.4 624.4V630.2 M445.9 624.4V630.2 M447.6 624.4V630.2 M451.2 624.4V630.2 M459.2 624.4V630.2 M463.1 624.4V630.2" class="ct" stroke="#9c0016"/>
<text x="192.7" y="54.6" class="bk" fill="#9c0016" textLength="18.5" lengthAdjust="spacingAndGlyphs">BKV+</text>
<text x="222.7" y="77.5" class="bk" fill="#1a3878" textLength="16.8" lengthAdjust="spacingAndGlyphs">BKV-</text>
<text x="440.4" y="32.0" class="bk" fill="#9c0016" textLength="18.8" lengthAdjust="spacingAndGlyphs">BKV+</text>
<text x="421.5" y="75.1" class="bk" fill="#1a3878" textLength="16.3" lengthAdjust="spacingAndGlyphs">BKV-</text>
<text x="194.2" y="277.2" class="bk" fill="#9c0016" textLength="18.4" lengthAdjust="spacingAndGlyphs">BKV+</text>
<text x="224.7" y="301.7" class="bk" fill="#1a3878" textLength="16.9" lengthAdjust="spacingAndGlyphs">BKV-</text>
<text x="438.9" y="214.7" class="bk" fill="#9c0016" textLength="19.1" lengthAdjust="spacingAndGlyphs">BKV+</text>
<text x="459.7" y="244.1" class="bk" fill="#1a3878" textLength="17.2" lengthAdjust="spacingAndGlyphs">BKV-</text>
<text x="194.2" y="449.5" class="bk" fill="#9c0016" textLength="18.4" lengthAdjust="spacingAndGlyphs">BKV+</text>
<text x="213.9" y="458.9" class="bk" fill="#1a3878" textLength="16.2" lengthAdjust="spacingAndGlyphs">BKV-</text>
<text x="428.3" y="400.4" class="bk" fill="#9c0016" textLength="18.2" lengthAdjust="spacingAndGlyphs">BKV+</text>
<text x="457.1" y="406.7" class="bk" fill="#1a3878" textLength="16.1" lengthAdjust="spacingAndGlyphs">BKV-</text>
<text x="191.7" y="624.8" class="bk" fill="#9c0016" textLength="18.5" lengthAdjust="spacingAndGlyphs">BKV+</text>
<text x="224.0" y="669.9" class="bk" fill="#1a3878" textLength="16.9" lengthAdjust="spacingAndGlyphs">BKV-</text>
<text x="415.6" y="636.2" class="bk" fill="#9c0016" textLength="18.2" lengthAdjust="spacingAndGlyphs">BKV+</text>
<text x="431.9" y="612.7" class="bk" fill="#1a3878" textLength="16.5" lengthAdjust="spacingAndGlyphs">BKV-</text>
<text x="192.1" y="147.1" class="lr" textLength="53.9" lengthAdjust="spacingAndGlyphs">log-rank p=0.033</text>
<text x="450.1" y="147.1" class="lr" textLength="53.8" lengthAdjust="spacingAndGlyphs">log-rank p=0.002</text>
<text x="197.8" y="328.3" class="lr" textLength="53.8" lengthAdjust="spacingAndGlyphs">log-rank p=0.027</text>
<text x="448.7" y="328.3" class="lr" textLength="54.3" lengthAdjust="spacingAndGlyphs">log-rank p=0.002</text>
<text x="193.8" y="509.2" class="lr" textLength="53.4" lengthAdjust="spacingAndGlyphs">log-rank p=0.174</text>
<text x="448.7" y="509.2" class="lr" textLength="54.3" lengthAdjust="spacingAndGlyphs">log-rank p=0.013</text>
<text x="196.1" y="690.2" class="lr" textLength="53.8" lengthAdjust="spacingAndGlyphs">log-rank p=0.006</text>
<text x="444.0" y="690.2" class="lr" textLength="54.1" lengthAdjust="spacingAndGlyphs">log-rank p=0.193</text>
<text transform="translate(19.7,89.3) rotate(-90)" class="rl" text-anchor="middle">IFN&#947;+</text>
<text transform="translate(19.7,270.3) rotate(-90)" class="rl" text-anchor="middle">IL-2+</text>
<text transform="translate(19.7,451.5) rotate(-90)" class="rl" text-anchor="middle">TNF&#945;+</text>
<text transform="translate(19.7,632.3) rotate(-90)" class="rl" text-anchor="middle">Cytolytic</text>
<text x="154.4" y="19.8" class="ch" textLength="23.7" lengthAdjust="spacingAndGlyphs">CD8</text>
<text x="407.0" y="19.7" class="ch" textLength="22.6" lengthAdjust="spacingAndGlyphs">CD4</text>
<text transform="translate(14.6,22.7) scale(1.05,1.08)" class="pa">A</text>
<rect x="0.75" y="0.75" width="518.5" height="737.5" fill="none" stroke="#000" stroke-width="1.5"/>
</svg>
</body></html>
